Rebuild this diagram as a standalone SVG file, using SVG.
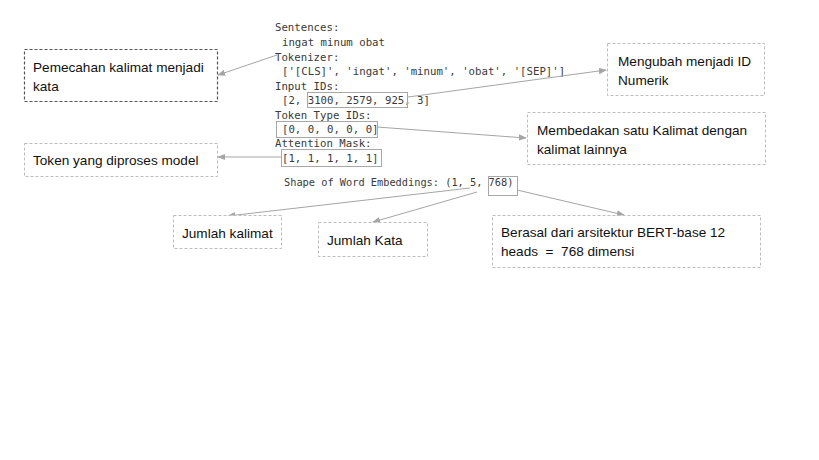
<svg xmlns="http://www.w3.org/2000/svg" width="819" height="460" viewBox="0 0 819 460">
<style>
.code{font-family:"DejaVu Sans Mono","Liberation Mono",monospace;font-size:10.7px;fill:#3a3a3a}
.lbl{font-family:"Liberation Sans",Arial,sans-serif;font-size:13.6px;fill:#111;white-space:pre}
.nb{fill:#fff;stroke:#bdbdbd;stroke-width:1;stroke-dasharray:3 2}
.nbd{fill:#fff;stroke:#555;stroke-width:1.2;stroke-dasharray:3 2}
.hl{fill:none;stroke:#a8a8a8;stroke-width:1}
.conn line{stroke:#a5a5a5;stroke-width:1;marker-end:url(#ah)}
</style>
<defs>
<marker id="ah" viewBox="0 0 10 10" refX="9" refY="5" markerWidth="8" markerHeight="8" markerUnits="userSpaceOnUse" orient="auto">
<path d="M0,1 L10,5 L0,9 z" fill="#a5a5a5"/>
</marker>
</defs>
<rect width="819" height="460" fill="#fff"/>
<g id="code">
<text class="code" x="275" y="31">Sentences:</text>
<text class="code" x="282" y="46">ingat minum obat</text>
<text class="code" x="275" y="61">Tokenizer:</text>
<text class="code" x="282" y="75">['[CLS]', 'ingat', 'minum', 'obat', '[SEP]']</text>
<text class="code" x="275" y="90">Input IDs:</text>
<text class="code" x="282" y="104">[2, 3100, 2579, 925, 3]</text>
<text class="code" x="275" y="119">Token Type IDs:</text>
<text class="code" x="282" y="133">[0, 0, 0, 0, 0]</text>
<text class="code" x="275" y="147">Attention Mask:</text>
<text class="code" x="282" y="162">[1, 1, 1, 1, 1]</text>
<text class="code" x="284" y="186" style="font-size:10.3px">Shape of Word Embeddings: (1, 5, 768)</text>
<rect class="hl" x="307.5" y="92.5" width="100" height="15"/>
<rect class="hl" x="276.5" y="121.5" width="101" height="16"/>
<rect class="hl" x="281.5" y="149.5" width="100" height="17"/>
<rect class="hl" x="488.5" y="176.5" width="29" height="19"/>
</g>
<g class="conn" id="connectors">
<line x1="277" y1="55" x2="218" y2="75"/>
<line x1="408" y1="97" x2="606" y2="70"/>
<line x1="377" y1="127" x2="526" y2="138"/>
<line x1="282" y1="157" x2="218" y2="157"/>
<line x1="470" y1="188" x2="228" y2="216"/>
<line x1="477" y1="192" x2="373" y2="222"/>
<line x1="517" y1="190" x2="624" y2="215"/>
</g>
<g id="n1">
<rect class="nbd" x="24.5" y="49.5" width="193" height="52"/>
<text class="lbl" x="33" y="72">Pemecahan kalimat menjadi</text>
<text class="lbl" x="33" y="91">kata</text>
</g>
<g id="n2">
<rect class="nb" x="607.5" y="43.5" width="157" height="52"/>
<text class="lbl" x="618" y="66">Mengubah menjadi ID</text>
<text class="lbl" x="618" y="85">Numerik</text>
</g>
<g id="n3">
<rect class="nb" x="527.5" y="112.5" width="238" height="52"/>
<text class="lbl" x="537" y="135">Membedakan satu Kalimat dengan</text>
<text class="lbl" x="537" y="154">kalimat lainnya</text>
</g>
<g id="n4">
<rect class="nb" x="24.5" y="143.5" width="193" height="33"/>
<text class="lbl" x="33" y="165">Token yang diproses model</text>
</g>
<g id="n5">
<rect class="nb" x="173.5" y="215.5" width="108" height="33"/>
<text class="lbl" x="182" y="238">Jumlah kalimat</text>
</g>
<g id="n6">
<rect class="nb" x="318.5" y="222.5" width="109" height="34"/>
<text class="lbl" x="327" y="245">Jumlah Kata</text>
</g>
<g id="n7">
<rect class="nb" x="492.5" y="215.5" width="268" height="52"/>
<text class="lbl" x="501" y="237">Berasal dari arsitektur BERT-base 12</text>
<text class="lbl" x="501" y="256" xml:space="preserve">heads  =  768 dimensi</text>
</g>
</svg>
